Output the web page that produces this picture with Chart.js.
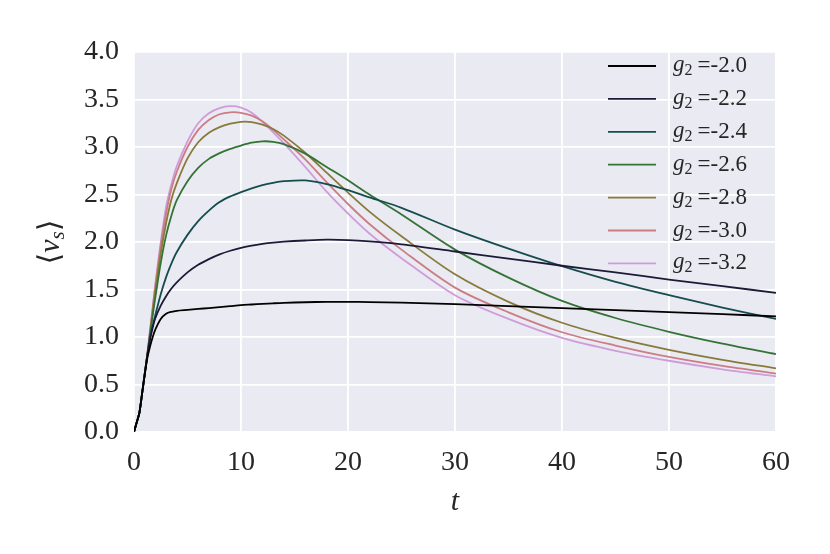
<!DOCTYPE html>
<html>
<head>
<meta charset="utf-8">
<script src="https://cdn.jsdelivr.net/npm/chart.js@4.4.0/dist/chart.umd.min.js"></script>
<style>
  body { margin: 0; background: #ffffff; }
  #wrap { width: 830px; height: 554px; }
</style>
</head>
<body>
<div id="wrap"><canvas id="chart"></canvas></div>
<script>
// time samples
const times = [0, 0.25, 0.5, 0.75, 1, 1.25, 1.5, 1.75, 2, 2.5, 3, 3.5, 4, 5, 6, 7, 8, 9, 10,
               11, 12, 13, 14, 16, 18, 20, 22, 25, 30, 35, 40, 45, 50, 55, 60];

// <v_s> for each g2
const vsG20 = [0, 0.1, 0.2, 0.4, 0.6, 0.78, 0.9, 1.0, 1.08, 1.19, 1.245, 1.265, 1.275, 1.285, 1.295, 1.305, 1.315,
               1.325, 1.335, 1.342, 1.349, 1.355, 1.36, 1.366, 1.37, 1.37, 1.368, 1.362, 1.345, 1.325, 1.303,
               1.283, 1.262, 1.24, 1.218];
const vsG22 = [0, 0.1, 0.2, 0.4, 0.61, 0.81, 0.97, 1.1, 1.2, 1.33, 1.43, 1.51, 1.575, 1.68, 1.76, 1.82, 1.87,
               1.908, 1.938, 1.962, 1.98, 1.994, 2.004, 2.016, 2.024, 2.02, 2.006, 1.975, 1.9, 1.825, 1.75,
               1.68, 1.605, 1.535, 1.465];
const vsG24 = [0, 0.1, 0.2, 0.4, 0.61, 0.81, 1.0, 1.12, 1.235, 1.45, 1.63, 1.775, 1.895, 2.075, 2.22, 2.33, 2.42,
               2.48, 2.525, 2.565, 2.598, 2.623, 2.64, 2.648, 2.61, 2.545, 2.47, 2.36, 2.13, 1.93, 1.745,
               1.58, 1.44, 1.31, 1.19];
const vsG26 = [0, 0.1, 0.2, 0.4, 0.61, 0.81, 1.02, 1.23, 1.42, 1.78, 2.07, 2.28, 2.44, 2.64, 2.78, 2.875, 2.935,
               2.98, 3.015, 3.045, 3.06, 3.055, 3.03, 2.93, 2.79, 2.65, 2.5, 2.29, 1.92, 1.625, 1.38,
               1.2, 1.055, 0.93, 0.82];
const vsG28 = [0, 0.1, 0.2, 0.4, 0.61, 0.82, 1.04, 1.27, 1.49, 1.88, 2.2, 2.45, 2.62, 2.88, 3.05, 3.15, 3.21,
               3.245, 3.265, 3.262, 3.235, 3.19, 3.12, 2.94, 2.73, 2.52, 2.32, 2.06, 1.66, 1.37, 1.15,
               0.99, 0.865, 0.76, 0.67];
const vsG30 = [0, 0.1, 0.2, 0.4, 0.61, 0.82, 1.06, 1.3, 1.54, 1.96, 2.3, 2.56, 2.74, 3.0, 3.18, 3.285, 3.345,
               3.365, 3.36, 3.33, 3.27, 3.18, 3.08, 2.87, 2.63, 2.4, 2.19, 1.92, 1.52, 1.26, 1.05,
               0.91, 0.79, 0.695, 0.615];
const vsG32 = [0, 0.1, 0.2, 0.4, 0.61, 0.83, 1.08, 1.32, 1.56, 2.0, 2.37, 2.61, 2.8, 3.06, 3.25, 3.355, 3.41,
               3.43, 3.415, 3.36, 3.265, 3.155, 3.04, 2.79, 2.53, 2.3, 2.09, 1.83, 1.44, 1.19, 0.99,
               0.855, 0.75, 0.66, 0.585];

const couplings = ['-2.0', '-2.2', '-2.4', '-2.6', '-2.8', '-3.0', '-3.2'];
const seriesValues = [vsG20, vsG22, vsG24, vsG26, vsG28, vsG30, vsG32];
const lineColors = ['#000000', '#1b1b38', '#154c4e', '#347335', '#877a3a', '#cb7c85', '#cf9cda'];

const serif = "'Liberation Serif', 'DejaVu Serif', serif";

const datasets = seriesValues.map((vals, i) => ({
    label: couplings[i],
    data: times.map((t, j) => ({ x: t, y: vals[j] })),
    borderColor: lineColors[i],
    backgroundColor: lineColors[i],
    borderWidth: 1.8,
    pointRadius: 0,
    fill: false,
    tension: 0.3
}));

// grey plot background, like seaborn darkgrid
const plotBackground = {
    id: 'plotBackground',
    beforeDraw(chart) {
        const { ctx, chartArea: a } = chart;
        ctx.save();
        ctx.fillStyle = '#eaeaf2';
        ctx.fillRect(a.left, a.top, a.right - a.left, a.bottom - a.top);
        ctx.restore();
    }
};

// axis labels with italic symbols and subscripts
const axisLabels = {
    id: 'axisLabels',
    afterDraw(chart) {
        const { ctx, chartArea: a } = chart;
        ctx.save();
        ctx.fillStyle = '#262626';
        ctx.textBaseline = 'alphabetic';

        // x label: t
        ctx.font = `italic 30px ${serif}`;
        ctx.textAlign = 'center';
        ctx.fillText('t', (a.left + a.right) / 2, 510);

        // y label: <v_s>, rotated
        ctx.translate(59, (a.top + a.bottom) / 2);
        ctx.rotate(-Math.PI / 2);
        ctx.textAlign = 'left';
        const parts = [
            { s: '\u27E8', f: `30px ${serif}`, dy: 0 },
            { s: 'v', f: `italic 30px ${serif}`, dy: 0 },
            { s: 's', f: `italic 21px ${serif}`, dy: 5 },
            { s: '\u27E9', f: `30px ${serif}`, dy: 0 }
        ];
        let total = 0;
        parts.forEach(p => { ctx.font = p.f; p.w = ctx.measureText(p.s).width; total += p.w; });
        let x = -total / 2;
        parts.forEach(p => { ctx.font = p.f; ctx.fillText(p.s, x, p.dy); x += p.w; });
        ctx.restore();
    }
};

// legend drawn inside the axes, no frame
const innerLegend = {
    id: 'innerLegend',
    afterDraw(chart) {
        const { ctx } = chart;
        ctx.save();
        ctx.textBaseline = 'alphabetic';
        ctx.textAlign = 'left';
        chart.data.datasets.forEach((ds, i) => {
            const y = 66 + i * 32.9;
            ctx.strokeStyle = ds.borderColor;
            ctx.lineWidth = 1.8;
            ctx.beginPath();
            ctx.moveTo(608, y);
            ctx.lineTo(656, y);
            ctx.stroke();

            ctx.fillStyle = '#262626';
            let x = 673;
            ctx.font = `italic 23px ${serif}`;
            ctx.fillText('g', x, y + 5);
            x += ctx.measureText('g').width;
            ctx.font = `16px ${serif}`;
            ctx.fillText('2', x, y + 9);
            x += ctx.measureText('2').width + 5;
            ctx.font = `23px ${serif}`;
            ctx.fillText('=' + ds.label, x, y + 6);
        });
        ctx.restore();
    }
};

new Chart(document.getElementById('chart'), {
    type: 'line',
    data: { datasets },
    options: {
        responsive: true,
        maintainAspectRatio: false,
        animation: false,
        layout: { padding: { left: 0, right: 54, top: 52, bottom: 0 } },
        plugins: {
            legend: { display: false },
            title: { display: false },
            tooltip: { enabled: false }
        },
        scales: {
            x: {
                type: 'linear',
                min: 0,
                max: 60,
                afterFit(scale) { scale.height = 122; },
                border: { display: false },
                grid: { color: '#ffffff', lineWidth: 1.8, drawTicks: false },
                ticks: {
                    stepSize: 10,
                    padding: 14,
                    color: '#262626',
                    font: { family: serif, size: 28 }
                }
            },
            y: {
                min: 0,
                max: 4,
                afterFit(scale) { scale.width = 134; },
                border: { display: false },
                grid: { color: '#ffffff', lineWidth: 1.8, drawTicks: false },
                ticks: {
                    stepSize: 0.5,
                    padding: 15,
                    color: '#262626',
                    font: { family: serif, size: 28 },
                    callback: v => v.toFixed(1)
                }
            }
        }
    },
    plugins: [plotBackground, axisLabels, innerLegend]
});
</script>
</body>
</html>
